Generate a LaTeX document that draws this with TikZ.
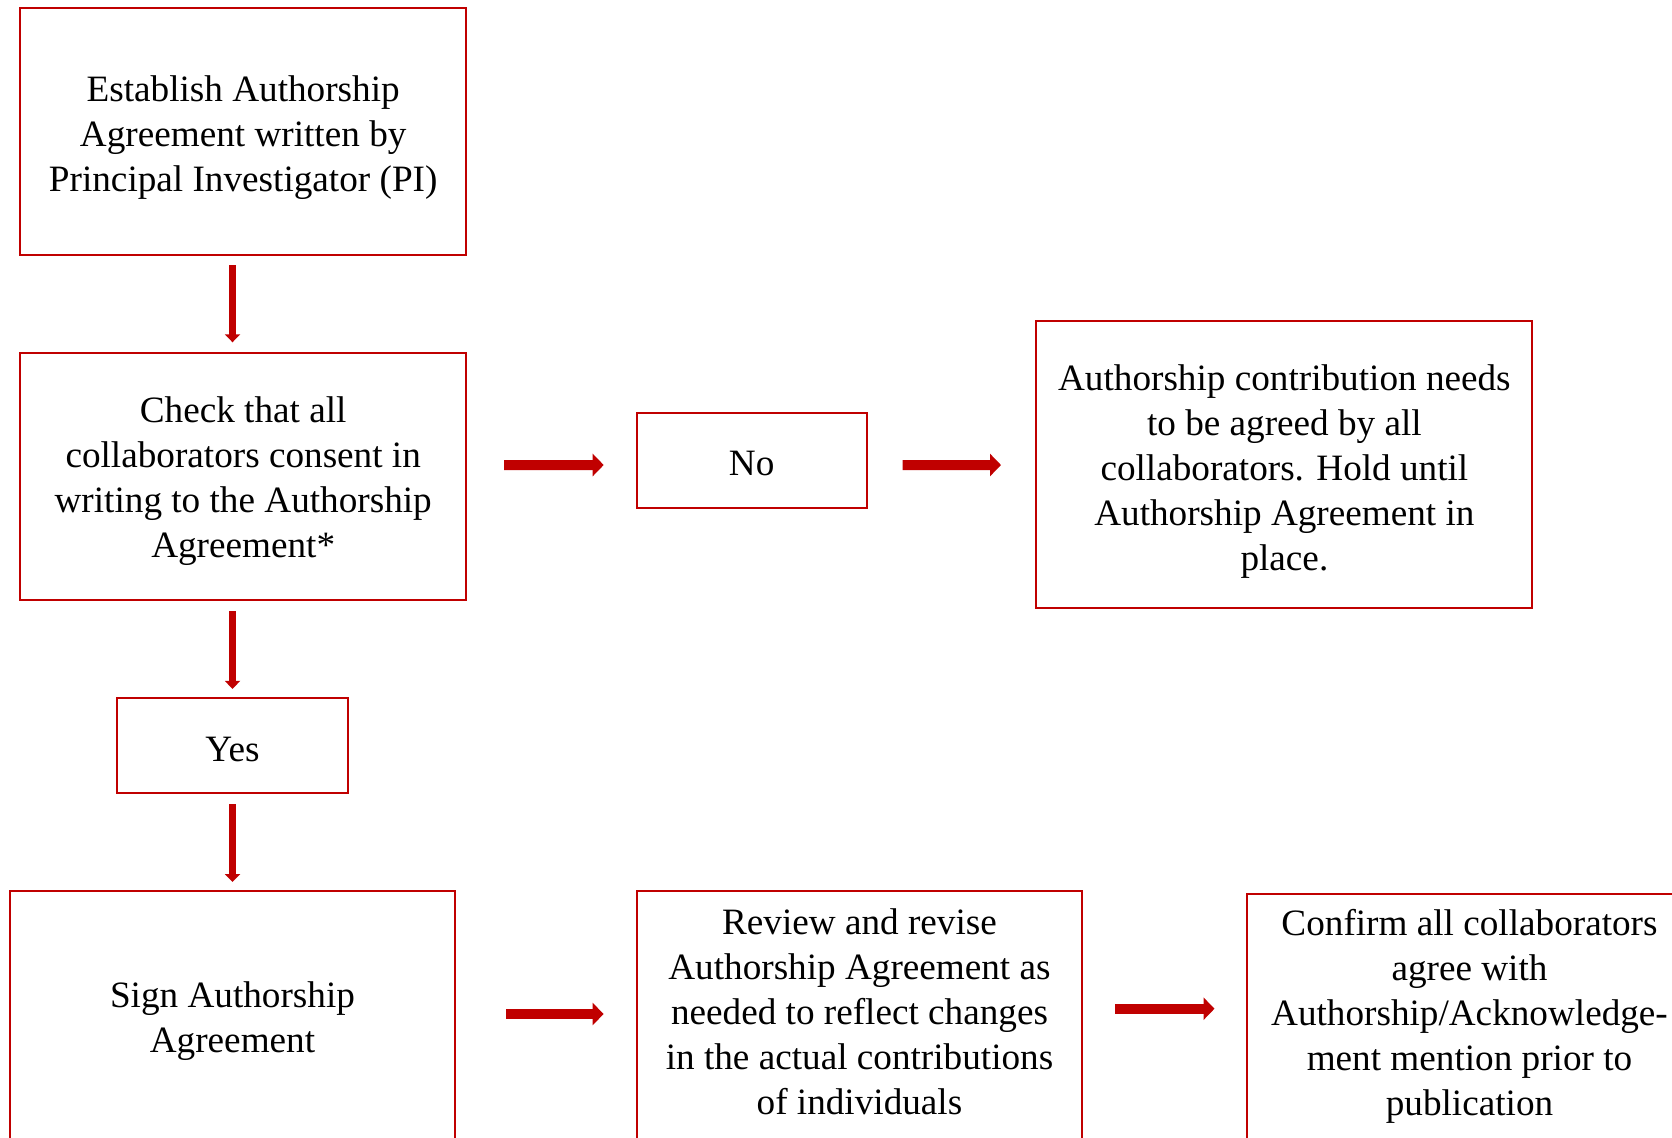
\documentclass[tikz,border=0pt]{standalone}
\usepackage{fontspec}
\setmainfont{Liberation Serif}
\usetikzlibrary{arrows.meta}
\definecolor{dred}{HTML}{C00000}
\begin{document}
\begin{tikzpicture}[x=0.5pt,y=-0.5pt,
 box/.style={draw=dred,line width=1pt,rectangle,inner sep=0pt},
 txt/.style={align=center,inner sep=0pt,font=\fontsize{18.6}{22.5}\selectfont},
 harr/.style={draw=dred,line width=5pt,-{Triangle[width=11pt,length=5.5pt]}},
 varr/.style={draw=dred,line width=3.2pt,-{Triangle[width=7.5pt,length=4pt]}}]
\useasboundingbox (0,0) rectangle (1672,1137);
\clip (0,0) rectangle (1672,1137);
% boxes
\node[box,minimum width=222.9pt,minimum height=123.6pt] (b1) at (243.2,131.2) {};
\node[box,minimum width=222.9pt,minimum height=123.5pt] (b2) at (243.2,476.5) {};
\node[box,minimum width=115pt,minimum height=47.5pt] (no) at (751.7,460.2) {};
\node[box,minimum width=248pt,minimum height=143.5pt] (hold) at (1284.4,464.5) {};
\node[box,minimum width=115.2pt,minimum height=47.5pt] (yes) at (232.5,745.8) {};
\node[box,minimum width=222.9pt,minimum height=127pt] (sign) at (232.5,1018) {};
\node[box,minimum width=222.9pt,minimum height=127pt] (review) at (859.5,1018) {};
\node[box,minimum width=223pt,minimum height=126pt] (confirm) at (1469.5,1019.6) {};
% texts
\node[txt] (b1txt) at (243.2,137.6) {Establish Authorship\\Agreement written by\\Principal Investigator (PI)};
\node[txt] (b2txt) at (243.2,480.8) {Check that all\\collaborators consent in\\writing to the Authorship\\Agreement*};
\node[txt] (notxt) at (751.7,463.4) {No};
\node[txt] (holdtxt) at (1284.4,471.4) {Authorship contribution needs\\to be agreed by all\\collaborators. Hold until\\Authorship Agreement in\\place.};
\node[txt] (yestxt) at (232.5,749) {Yes};
\node[txt] (signtxt) at (232.5,1021) {Sign Authorship\\Agreement};
\node[txt] (reviewtxt) at (859.5,1012) {Review and revise\\Authorship Agreement as\\needed to reflect changes\\in the actual contributions\\of individuals};
\node[txt] (confirmtxt) at (1469.5,1016) {Confirm all collaborators\\agree with\\Authorship/Acknowledge-\\ment mention prior to\\publication};
% arrows
\draw[varr] ([shift={(-10.7,9.6)}]b1.south) -- ([shift={(-10.7,-9.7)}]b2.north);
\draw[varr] ([shift={(-10.7,10)}]b2.south) -- ([shift={(0,-8.4)}]yes.north);
\draw[varr] ([shift={(0,9.7)}]yes.south) -- ([shift={(0,-8)}]sign.north);
\draw[harr] ([shift={(37,-11.5)}]b2.east) -- ([shift={(-32,4.8)}]no.west);
\draw[harr] ([shift={(35,4.8)}]no.east) -- ([shift={(-34.4,0.5)}]hold.west);
\draw[harr] ([shift={(50,-4)}]sign.east) -- ([shift={(-32,-4)}]review.west);
\draw[harr] ([shift={(32,-9.3)}]review.east) -- ([shift={(-31,-10.9)}]confirm.west);
\end{tikzpicture}
\end{document}
